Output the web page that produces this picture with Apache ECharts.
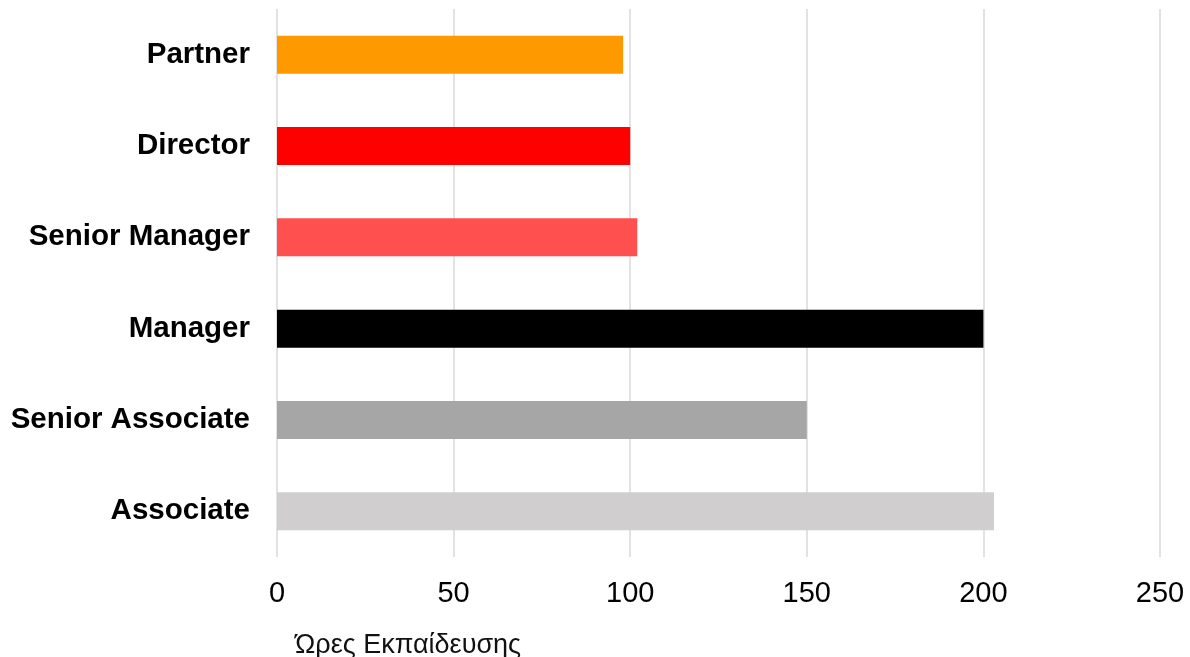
<!DOCTYPE html>
<html>
<head>
<meta charset="utf-8">
<script src="https://cdn.jsdelivr.net/npm/echarts@6/dist/echarts.min.js"></script>
<style>html,body{margin:0;padding:0;background:#fff}#c{width:1190px;height:657px}</style>
</head>
<body>
<div id="c"></div>
<script>
var categories = ['Associate', 'Senior Associate', 'Manager', 'Senior Manager', 'Director', 'Partner'];
var values = [203, 150, 200, 102, 100, 98];
var barColors = ['#D0CECE', '#A6A6A6', '#000000', '#FF5050', '#FF0000', '#FF9900'];
var xTicks = [0, 50, 100, 150, 200, 250];
var axisTitle = 'Ώρες Εκπαίδευσης';

var chart = echarts.init(document.getElementById('c'));
chart.setOption({
  animation: false,
  title: {
    text: axisTitle,
    left: 290, top: 627,
    textStyle: {fontFamily: 'Liberation Sans, Arial, sans-serif', fontSize: 27, fontWeight: 'normal', color: '#111'}
  },
  grid: {left: 277, right: 30, top: 9, bottom: 100, containLabel: false},
  xAxis: {
    type: 'value', min: xTicks[0], max: xTicks[xTicks.length - 1], interval: 50,
    axisLine: {show: false}, axisTick: {show: false},
    splitLine: {show: true, lineStyle: {color: '#D9D9D9', width: 1.5}},
    axisLabel: {fontFamily: 'Liberation Sans, Arial, sans-serif', fontSize: 29, color: '#000', margin: 22}
  },
  yAxis: {
    type: 'category', data: categories,
    axisLine: {show: false}, axisTick: {show: false},
    axisLabel: {fontFamily: 'Liberation Sans, Arial, sans-serif', fontSize: 29.5, fontWeight: 'bold', color: '#000', margin: 27}
  },
  series: [{
    type: 'bar',
    barWidth: 38,
    data: values.map(function (v, i) { return {value: v, itemStyle: {color: barColors[i]}}; })
  }]
});
</script>
</body>
</html>
